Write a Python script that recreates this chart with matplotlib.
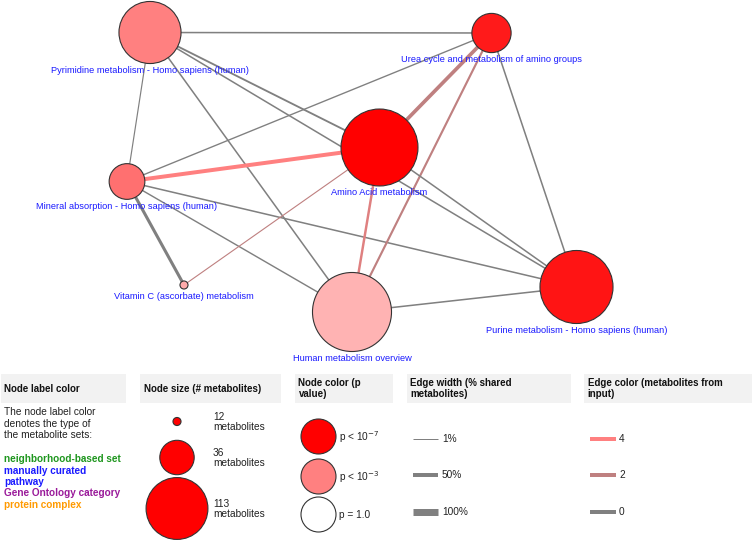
import matplotlib
matplotlib.use("Agg")
import matplotlib.pyplot as plt
from matplotlib.patches import Circle, Rectangle
import numpy as np

plt.rcParams["font.family"] = ["Liberation Sans", "DejaVu Sans"]

# ---------- network data (layout in pixel space) ----------
node_names = ["Pyrimidine metabolism - Homo sapiens (human)",
              "Urea cycle and metabolism of amino groups",
              "Amino Acid metabolism",
              "Mineral absorption - Homo sapiens (human)",
              "Vitamin C (ascorbate) metabolism",
              "Human metabolism overview",
              "Purine metabolism - Homo sapiens (human)"]
node_x = [150, 491.5, 379.5, 127, 184, 352, 576.5]
node_y = [32.5, 33, 147.5, 181.5, 285, 312, 287]
node_metabolites = [114, 44, 212, 38, 12, 231, 180]
node_colors = ["#FF8080", "#FF1A1A", "#FF0000", "#FF7070", "#FFAAAA", "#FFB3B3", "#FF1414"]

edge_src = [0, 0, 0, 0, 0, 3, 3, 3, 3, 3, 4, 2, 2, 5, 2, 5, 1]
edge_dst = [1, 2, 6, 3, 5, 1, 2, 4, 5, 6, 2, 1, 5, 1, 6, 6, 6]
edge_shared_pct = [10, 15, 10, 4, 10, 7, 50, 35, 8, 10, 3, 45, 25, 20, 10, 10, 10]
edge_input = [0, 0, 0, 0, 0, 0, 4, 0, 0, 0, 2, 2, 3, 2, 0, 0, 0]

# ---------- legend data ----------
size_legend_counts = [12, 36, 113]
pcolor_legend = ["p < 10$^{-7}$", "p < 10$^{-3}$", "p = 1.0"]
pcolor_legend_fill = ["#FF0000", "#FF8080", "#FFFFFF"]
width_legend_pct = [1, 50, 100]
input_legend_counts = [4, 2, 0]
label_types = ["neighborhood-based set", "manually curated\npathway",
               "Gene Ontology category", "protein complex"]
label_type_colors = ["#1E961E", "#1A1AFF", "#9A1A9A", "#FF9A00"]


def radius_px(n):
    return 12 * np.log(n) - 25.8


def edge_width_px(pct):
    return 1 + 6 * (pct - 1) / 99


def edge_color(k):
    t = k / 4
    return (0.5 + 0.5 * t, 0.5, 0.5)


PX = 0.72  # points per pixel at dpi 100

fig = plt.figure(figsize=(7.54, 5.43), dpi=100)
ax = fig.add_axes([0, 0, 1, 1])
ax.set_xlim(0, 754)
ax.set_ylim(543, 0)
ax.axis("off")

# edges
for s, d, pct, k in zip(edge_src, edge_dst, edge_shared_pct, edge_input):
    ax.plot([node_x[s], node_x[d]], [node_y[s], node_y[d]],
            color=edge_color(k), lw=edge_width_px(pct) * PX,
            solid_capstyle="butt", zorder=1)

# nodes + labels
for name, x, y, n, c in zip(node_names, node_x, node_y, node_metabolites, node_colors):
    r = radius_px(n)
    ax.add_patch(Circle((x, y), r, fc=c, ec="#333333", lw=0.8, zorder=2))
    ax.text(x, y + r + 7, name, ha="center", va="center", fontsize=6.7,
            color="#1A1AFF", zorder=3)

# ---------- legend ----------
hdr_x = [1, 140, 295, 407, 584]
hdr_w = [125, 141, 98, 164, 168]
hdr_txt = ["Node label color", "Node size (# metabolites)", "Node color (p\nvalue)",
           "Edge width (% shared\nmetabolites)", "Edge color (metabolites from\ninput)"]
for x, w, t in zip(hdr_x, hdr_w, hdr_txt):
    ax.add_patch(Rectangle((x, 374), w, 29, fc="#F2F2F2", ec="none"))
    ax.text(x + 3.5, 388.5, t, ha="left", va="center", fontsize=7,
            fontweight="bold", color="#111111", linespacing=1.15)

ax.text(4, 407, "The node label color\ndenotes the type of\nthe metabolite sets:",
        ha="left", va="top", fontsize=7.3, color="#222222", linespacing=1.2)
ty = 459
for t, c in zip(label_types, label_type_colors):
    for line in t.split("\n"):
        ax.text(4, ty, line, ha="left", va="center", fontsize=7.2,
                fontweight="bold", color=c)
        ty += 11.5

size_y = [421.5, 457.5, 508.5]
for n, y in zip(size_legend_counts, size_y):
    ax.add_patch(Circle((177, y), radius_px(n), fc="#FF0000", ec="#333333", lw=0.8))
    ax.text(213, y + 0.5, f"{n}\nmetabolites", ha="left", va="center", fontsize=7.3,
            color="#222222", linespacing=1.1)

pc_y = [436.5, 476.5, 514.5]
for t, c, y in zip(pcolor_legend, pcolor_legend_fill, pc_y):
    ax.add_patch(Circle((318.5, y), 17.5, fc=c, ec="#333333", lw=0.8))
    ax.text(339, y + 1, t, ha="left", va="center", fontsize=7.3, color="#222222")

lg_y = [439, 475, 512]
for pct, y in zip(width_legend_pct, lg_y):
    ax.plot([413, 438], [y, y], color="#808080", lw=edge_width_px(pct) * PX,
            solid_capstyle="butt")
    ax.text(442, y, f"{pct}%", ha="left", va="center", fontsize=7.3, color="#222222")

for k, y in zip(input_legend_counts, lg_y):
    ax.plot([590, 616], [y, y], color=edge_color(k), lw=4 * PX, solid_capstyle="butt")
    ax.text(619, y, str(k), ha="left", va="center", fontsize=7.3, color="#222222")

fig.savefig("out.png", dpi=100)
